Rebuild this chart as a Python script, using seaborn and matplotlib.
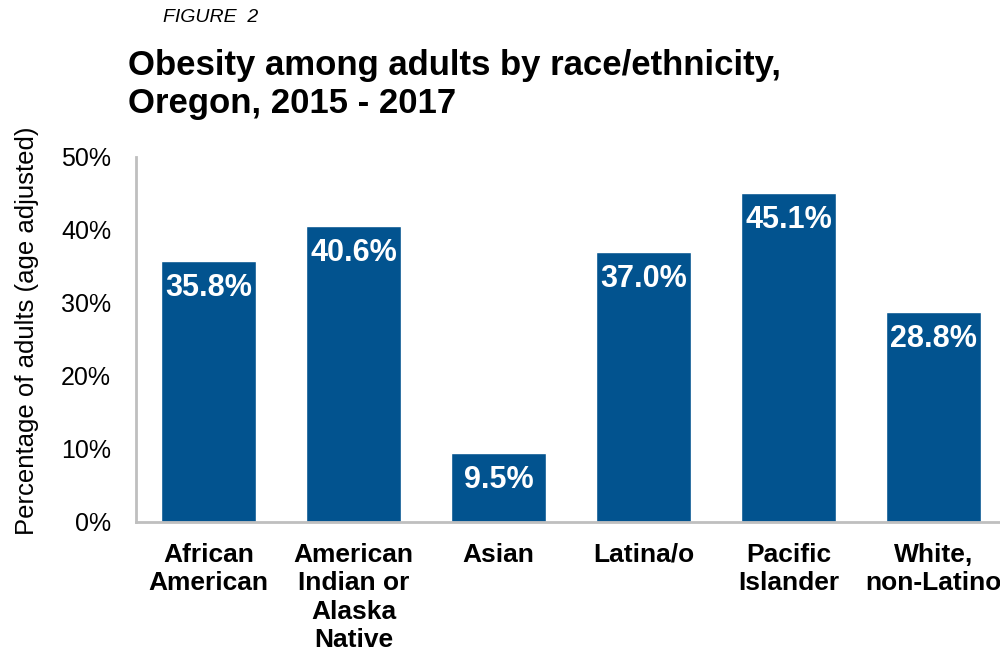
import matplotlib
matplotlib.use("Agg")
import matplotlib.pyplot as plt
import seaborn as sns
import pandas as pd

# Data
categories = [
    "African\nAmerican",
    "American\nIndian or\nAlaska\nNative",
    "Asian",
    "Latina/o",
    "Pacific\nIslander",
    "White,\nnon-Latino",
]
values = [35.8, 40.6, 9.5, 37.0, 45.1, 28.8]
y_ticks = [0, 10, 20, 30, 40, 50]

BAR_COLOR = "#02538F"
AXIS_GRAY = "#BFBFBF"

sns.set_style("white")
plt.rcParams["font.family"] = ["Liberation Sans", "DejaVu Sans"]
plt.rcParams["text.color"] = "black"
plt.rcParams["axes.labelcolor"] = "black"
plt.rcParams["xtick.color"] = "black"
plt.rcParams["ytick.color"] = "black"

df = pd.DataFrame({"group": categories, "pct": values})

fig = plt.figure(figsize=(10, 6.56), dpi=100)
ax = fig.add_axes([0.136, 0.2043, 0.87, 0.5564])

sns.barplot(data=df, x="group", y="pct", color=BAR_COLOR, width=0.66,
            saturation=1, ax=ax)

ax.set_ylim(0, 50)
ax.set_yticks(y_ticks)
ax.set_yticklabels([f"{t}%" for t in y_ticks], fontsize=18)
ax.tick_params(axis="both", length=0)
ax.tick_params(axis="y", pad=18)
ax.tick_params(axis="x", pad=15)
for lbl in ax.get_xticklabels():
    lbl.set_fontsize(19)
    lbl.set_fontweight("bold")
    lbl.set_linespacing(1.24)
    lbl.set_verticalalignment("top")

ax.set_xlabel("")
ax.set_ylabel("Percentage of adults (age adjusted)", fontsize=18.5)
ax.yaxis.set_label_coords(-0.111, 0.525)

for side in ["top", "right"]:
    ax.spines[side].set_visible(False)
for side in ["left", "bottom"]:
    ax.spines[side].set_color(AXIS_GRAY)
    ax.spines[side].set_linewidth(2)

# Value labels inside the bars
for patch, v in zip(ax.patches, values):
    ax.annotate(f"{v:.1f}%",
                xy=(patch.get_x() + patch.get_width() / 2, patch.get_height()),
                xytext=(0, -9), textcoords="offset points",
                ha="center", va="top", color="white",
                fontsize=22, fontweight="bold")

# Titles
fig.text(0.163, 0.974, "FIGURE  2", fontsize=14, style="italic", va="center")
fig.text(0.128, 0.925, "Obesity among adults by race/ethnicity,\nOregon, 2015 - 2017",
         fontsize=25, fontweight="bold", va="top", linespacing=1.18)

fig.savefig("out.png", dpi=100)
